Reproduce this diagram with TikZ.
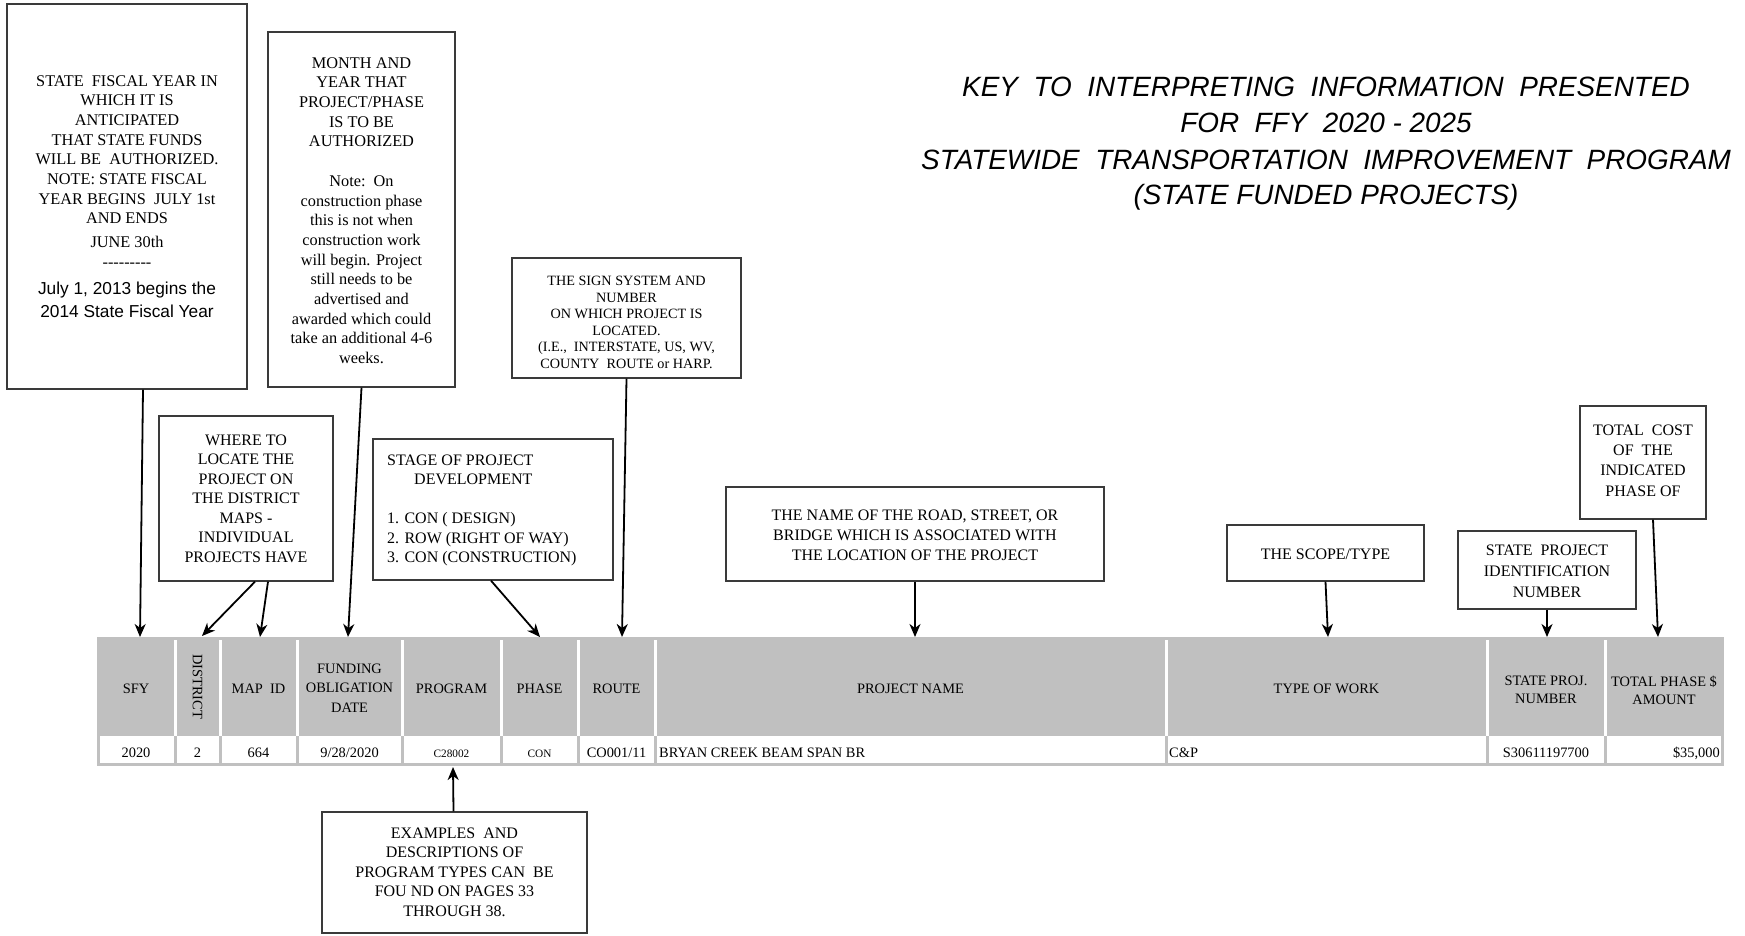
\documentclass[tikz,border=0pt]{standalone}
\usepackage{fontspec}
\setmainfont{Liberation Serif}
\newfontfamily\titlef{Liberation Sans}
\newfontfamily\comicf{Liberation Sans}
\usetikzlibrary{arrows.meta,calc}
\definecolor{tgray}{HTML}{C0C0C0}
\definecolor{bord}{HTML}{3A3A3A}
\begin{document}
\begin{tikzpicture}[x=1pt,y=-1pt,
  box/.style={draw=bord,line width=1.3pt,inner sep=0pt,fill=white},
  txt/.style={inner sep=0pt,align=center,anchor=north,font=\fontsize{16.3}{19.7}\selectfont},
  stxt/.style={inner sep=0pt,align=center,anchor=north,font=\fontsize{14.2}{16.5}\selectfont},
  htxt/.style={inner sep=0pt,align=center,font=\fontsize{14.4}{19.5}\selectfont},
  dtxt/.style={inner sep=0pt,anchor=base,font=\fontsize{14.4}{17}\selectfont},
  dsmall/.style={inner sep=0pt,anchor=base,font=\fontsize{11.3}{13}\selectfont},
  arr/.style={line width=1.8pt,-{Stealth[length=13pt,width=11pt,inset=4pt]}},
  ttl/.style={inner sep=0pt,anchor=base,font=\titlef\itshape\fontsize{27.9}{34}\selectfont}]
\useasboundingbox (0,0) rectangle (1745,935);

% ---------- title ----------
\node[ttl] (ttl1) at (1326,96) {KEY\ \ TO\ \ INTERPRETING\ \ INFORMATION\ \ PRESENTED};
\node[ttl] (ttl2) at (1326,132) {FOR\ \ FFY\ \ 2020 - 2025};
\node[ttl] (ttl3) at (1326,169) {STATEWIDE\ \ TRANSPORTATION\ \ IMPROVEMENT\ \ PROGRAM};
\node[ttl] (ttl4) at (1326,204) {(STATE FUNDED PROJECTS)};

% ---------- table ----------
\fill[tgray] (97,637) rectangle (1724,766);
\foreach \x in {175,220,297,402,501,578,655,1166,1487,1605}
  \fill[white] (\x-1.5,640) rectangle (\x+1.5,736);
\foreach \a/\b in {100/173.5,176.5/218.5,221.5/295.5,298.5/400.5,403.5/499.5,502.5/576.5,579.5/653.5,656.5/1164.5,1167.5/1485.5,1488.5/1603.5,1606.5/1721}
  \fill[white] (\a,736) rectangle (\b,763);

\node[htxt,anchor=base] (h1) at (136,693) {SFY};
\node[htxt,rotate=-90] (h2) at (197.5,686.5) {DISTRICT};
\node[htxt,anchor=base] (h3) at (258.5,693) {MAP\ \ ID};
\node[htxt,anchor=north] (h4) at (349.5,663.6) {FUNDING\\OBLIGATION\\DATE};
\node[htxt,anchor=base] (h5) at (451.5,693) {PROGRAM};
\node[htxt,anchor=base] (h6) at (539.5,693) {PHASE};
\node[htxt,anchor=base] (h7) at (616.5,693) {ROUTE};
\node[htxt,anchor=base] (h8) at (910.5,693) {PROJECT NAME};
\node[htxt,anchor=base] (h9) at (1326.5,693) {TYPE OF WORK};
\node[htxt,anchor=north,font=\fontsize{14.4}{18.5}\selectfont] (h10) at (1546,675.4) {STATE PROJ.\\NUMBER};
\node[htxt,anchor=north,font=\fontsize{14.4}{18.5}\selectfont] (h11) at (1664,675.4) {TOTAL PHASE \$\\AMOUNT};

\node[dtxt] (d1) at (136,757.5) {2020};
\node[dtxt] (d2) at (197.5,757.5) {2};
\node[dtxt] (d3) at (258.5,757.5) {664};
\node[dtxt] (d4) at (349.5,757.5) {9/28/2020};
\node[dsmall] (d5) at (451.5,757.5) {C28002};
\node[dsmall] (d6) at (539.5,757.5) {CON};
\node[dtxt] (d7) at (616.5,757.5) {CO001/11};
\node[dtxt,anchor=base west] (d8) at (659,757.5) {BRYAN CREEK BEAM SPAN BR};
\node[dtxt,anchor=base west] (d9) at (1169,757.5) {C\&P};
\node[dtxt] (d10) at (1546,757.5) {S30611197700};
\node[dtxt,anchor=base east] (d11) at (1720,757.5) {\$35,000};

% ---------- boxes ----------
\node[box,minimum width=240pt,minimum height=385pt] (b1) at (127,196.5) {};
\node[txt] (b1t) at (127,75.1) {STATE\ \ FISCAL YEAR IN\\WHICH IT IS\\ANTICIPATED\\THAT STATE FUNDS\\WILL BE\ \ AUTHORIZED.\\NOTE: STATE FISCAL\\YEAR BEGINS\ \ JULY 1st\\AND ENDS};
\node[txt,anchor=base] (b1u) at (127,247) {JUNE 30th};
\node[txt,anchor=base] (b1v) at (127,267) {-{}-{}-{}-{}-{}-{}-{}-{}-};
\node[inner sep=0pt,align=center,anchor=north,font=\comicf\fontsize{17.3}{23}\selectfont] (b1w) at (127,282) {July 1, 2013 begins the\\2014 State Fiscal Year};

\node[box,minimum width=187pt,minimum height=355pt] (b2) at (361.5,209.5) {};
\node[txt] (b2t) at (361.5,57.1) {MONTH AND\\YEAR THAT\\PROJECT/PHASE\\IS TO BE\\AUTHORIZED\\[19.7pt]Note:\ \ On\\construction phase\\this is not when\\construction work\\will begin. Project\\still needs to be\\advertised and\\awarded which could\\take an additional 4-6\\weeks.};

\node[box,minimum width=229pt,minimum height=120pt] (bs) at (626.5,318) {};
\node[stxt] (bst) at (626.5,276.3) {THE SIGN SYSTEM AND\\NUMBER\\ON WHICH PROJECT IS\\LOCATED.\\(I.E.,\ \ INTERSTATE, US, WV,\\COUNTY\ \ ROUTE or HARP.};

\node[box,minimum width=174pt,minimum height=165pt] (bw) at (246,498.5) {};
\node[txt,font=\fontsize{16}{19.5}\selectfont] (bwt) at (246,434.4) {WHERE TO\\LOCATE THE\\PROJECT ON\\THE DISTRICT\\MAPS -\\INDIVIDUAL\\PROJECTS HAVE};

\node[box,minimum width=240pt,minimum height=141pt] (bg) at (493,509.5) {};
\node[txt,align=left,anchor=north west,font=\fontsize{16}{19.5}\selectfont] (bgt) at (387,454.4) {STAGE OF PROJECT\\\hspace*{27pt}DEVELOPMENT\\[19.5pt]1. CON ( DESIGN)\\2. ROW (RIGHT OF WAY)\\3. CON (CONSTRUCTION)};

\node[box,minimum width=378pt,minimum height=94pt] (bn) at (915,534) {};
\node[txt,font=\fontsize{16}{20}\selectfont] (bnt) at (915,509.4) {THE NAME OF THE ROAD, STREET, OR\\BRIDGE WHICH IS ASSOCIATED WITH\\THE LOCATION OF THE PROJECT};

\node[box,minimum width=197pt,minimum height=56pt] (bc) at (1325.5,553) {};
\node[txt,anchor=base,font=\fontsize{16}{20}\selectfont] (bct) at (1325.5,559) {THE SCOPE/TYPE};

\node[box,minimum width=178pt,minimum height=78pt] (bp) at (1547,570) {};
\node[txt,font=\fontsize{16}{21}\selectfont] (bpt) at (1547,544.4) {STATE\ \ PROJECT\\IDENTIFICATION\\NUMBER};

\node[box,minimum width=126pt,minimum height=113pt] (bt) at (1643,462.5) {};
\node[txt,font=\fontsize{16}{20.3}\selectfont] (btt) at (1643,424.4) {TOTAL\ \ COST\\OF\ \ THE\\INDICATED\\PHASE OF};

\node[box,minimum width=265pt,minimum height=121pt] (be) at (454.5,872.5) {};
\node[txt,font=\fontsize{16}{19.5}\selectfont] (bet) at (454.5,827.4) {EXAMPLES\ \ AND\\DESCRIPTIONS OF\\PROGRAM TYPES CAN\ \ BE\\FOU ND ON PAGES 33\\THROUGH 38.};

% ---------- arrow targets ----------
\coordinate (k1) at (140,637);
\coordinate (k2) at (348,637);
\coordinate (k3) at (622,637);
\coordinate (k4) at (202,636);
\coordinate (k5) at (260,637);
\coordinate (k6) at (540,637);
\coordinate (k7) at (915,637);
\coordinate (k8) at (1328,637);
\coordinate (k9) at (1547,637);
\coordinate (k10) at (1658,637);
\coordinate (k11) at (453,767);

% ---------- arrows ----------
\draw[arr] ($(b1.south)+(16,0)$) -- (k1);
\draw[arr] (b2.south) -- (k2);
\draw[arr] (bs.south) -- (k3);
\draw[arr] ($(bw.south)+(9,0)$) -- (k4);
\draw[arr] ($(bw.south)+(22,0)$) -- (k5);
\draw[arr] ($(bg.south)+(-2,0)$) -- (k6);
\draw[arr] (bn.south) -- (k7);
\draw[arr] (bc.south) -- (k8);
\draw[arr] (bp.south) -- (k9);
\draw[arr] ($(bt.south)+(10,0)$) -- (k10);
\draw[arr] ($(be.north)+(-1,0)$) -- (k11);
\end{tikzpicture}
\end{document}
